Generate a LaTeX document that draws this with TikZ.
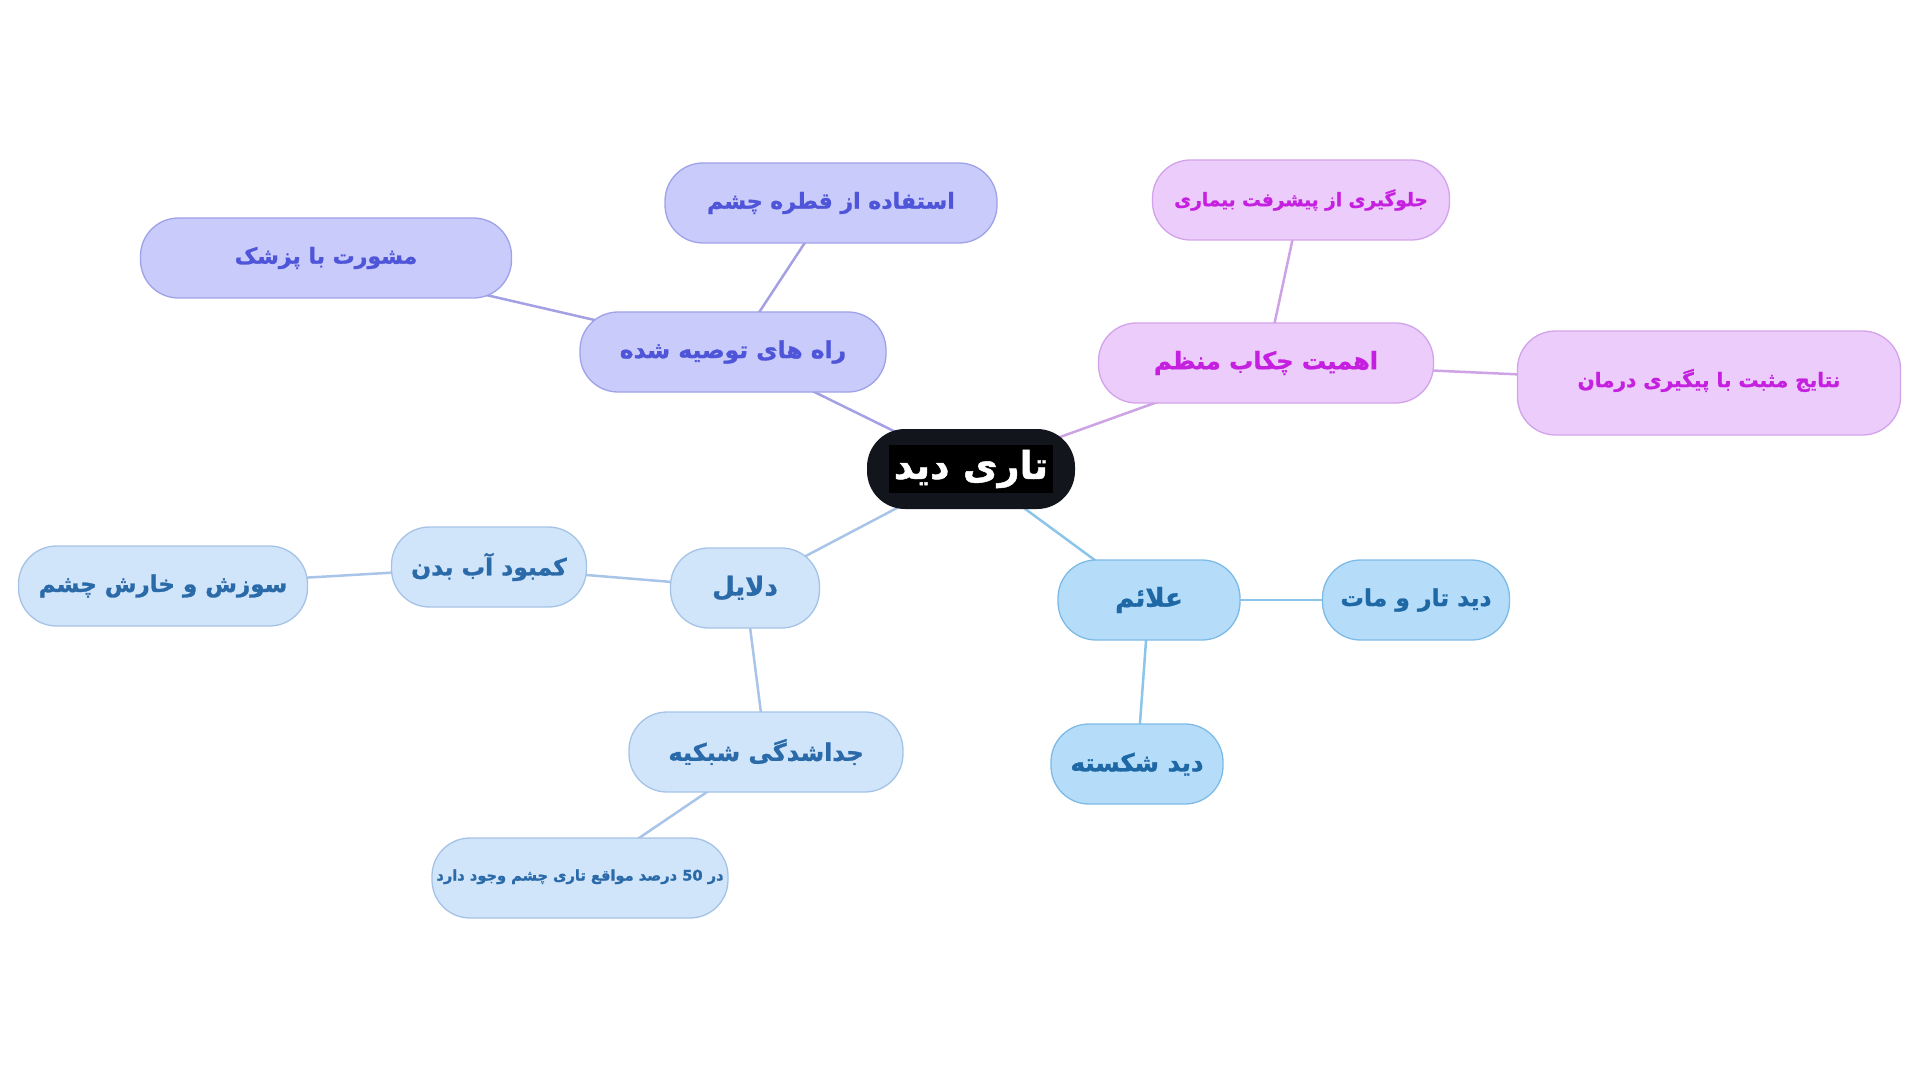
\documentclass[tikz,border=0pt]{standalone}
\usepackage{fontspec}
\usetikzlibrary{backgrounds}
\TeXXeTstate=1
\newfontfamily\arabicfont[Script=Arabic, BoldFeatures={FakeBold=1.2}]{DejaVu Sans}
\definecolor{indFill}{HTML}{C9CBFB}
\definecolor{indLine}{HTML}{9EA2E6}
\definecolor{indText}{HTML}{4F55D8}
\definecolor{indEdge}{HTML}{A3A0E3}
\definecolor{magFill}{HTML}{ECCCFB}
\definecolor{magLine}{HTML}{D2A3EA}
\definecolor{magText}{HTML}{C520E0}
\definecolor{magEdge}{HTML}{CDA3E6}
\definecolor{bluFill}{HTML}{D0E4FA}
\definecolor{bluLine}{HTML}{A5C3E6}
\definecolor{bluText}{HTML}{2A6AA8}
\definecolor{bluEdge}{HTML}{A8C4E8}
\definecolor{skyFill}{HTML}{B5DDFA}
\definecolor{skyLine}{HTML}{7DBBE6}
\definecolor{skyText}{HTML}{1F68A6}
\definecolor{skyEdge}{HTML}{8CC5EA}
\definecolor{rootFill}{HTML}{12151C}
\tikzset{
  fsz/.style={font=\arabicfont\bfseries\fontsize{#1}{#1}\selectfont},
  pill/.style={draw, rounded corners=38pt, line width=1.3pt, minimum height=80pt, inner sep=0pt, align=center, fsz=24},
  ind/.style={pill, fill=indFill, draw=indLine, text=indText},
  mag/.style={pill, fill=magFill, draw=magLine, text=magText},
  blu/.style={pill, fill=bluFill, draw=bluLine, text=bluText},
  sky/.style={pill, fill=skyFill, draw=skyLine, text=skyText},
  link/.style={line width=2.5pt},
}
\begin{document}
\begin{tikzpicture}[x=1pt, y=-1pt]
\useasboundingbox (0,0) rectangle (1920,1083);
% root
\node[pill, draw=none, fill=rootFill, text=white, minimum width=208pt, fsz=38] (c) at (971,469) {\setlength{\fboxsep}{5pt}\colorbox{black}{\beginR تاری دید\endR}};
% indigo branch
\node[ind, minimum width=306pt, fsz=23.4] (rah) at (733,352) {\beginR راه های توصیه شده\endR};
\node[ind, minimum width=332pt, fsz=22] (est) at (831,203) {\beginR استفاده از قطره چشم\endR};
\node[ind, minimum width=371pt, fsz=22] (msh) at (326,258) {\beginR مشورت با پزشک\endR};
% magenta branch
\node[mag, minimum width=335pt, fsz=24] (ehm) at (1266,363) {\beginR اهمیت چکاب منظم\endR};
\node[mag, minimum width=297pt, fsz=18.5] (jlg) at (1301,200) {\beginR جلوگیری از پیشرفت بیماری\endR};
\node[mag, minimum width=383pt, minimum height=104pt, fsz=20] (ntj) at (1709,383) {\raisebox{10pt}{\beginR نتایج مثبت با پیگیری درمان\endR}};
% blue branch
\node[blu, minimum width=149pt, fsz=26] (dly) at (745,588) {\beginR دلایل\endR};
\node[blu, minimum width=195pt, fsz=23.4] (kmb) at (489,567) {\beginR کمبود آب بدن\endR};
\node[blu, minimum width=289pt, fsz=23] (szs) at (163,586) {\beginR سوزش و خارش چشم\endR};
\node[blu, minimum width=274pt, fsz=24] (jds) at (766,752) {\beginR جداشدگی شبکیه\endR};
\node[blu, minimum width=296pt, fsz=14.6] (d50) at (580,878) {\raisebox{6pt}{\beginR در 50 درصد مواقع تاری چشم وجود دارد\endR}};
% sky branch
\node[sky, minimum width=182pt, fsz=26] (alm) at (1149,600) {\beginR علائم\endR};
\node[sky, minimum width=187pt, fsz=23.4] (dtm) at (1416,600) {\beginR دید تار و مات\endR};
\node[sky, minimum width=172pt, fsz=24.6] (dsk) at (1137,764) {\beginR دید شکسته\endR};
\begin{scope}[on background layer]
\draw[link, indEdge] (c.center) -- (rah.center);
\draw[link, indEdge] (rah.center) -- (est.center);
\draw[link, indEdge] (rah.center) -- (msh.center);
\draw[link, magEdge] (c.center) -- (ehm.center);
\draw[link, magEdge] (ehm.center) -- (jlg.center);
\draw[link, magEdge] (ehm.center) -- (ntj.center);
\draw[link, bluEdge] (c.center) -- (dly.center);
\draw[link, bluEdge] (dly.center) -- (kmb.center);
\draw[link, bluEdge] (kmb.center) -- (szs.center);
\draw[link, bluEdge] (dly.center) -- (jds.center);
\draw[link, bluEdge] (jds.center) -- (d50.center);
\draw[link, skyEdge] (c.center) -- (alm.center);
\draw[link, skyEdge] (alm.center) -- (dtm.center);
\draw[link, skyEdge] (alm.center) -- (dsk.center);
\end{scope}
\end{tikzpicture}
\end{document}
